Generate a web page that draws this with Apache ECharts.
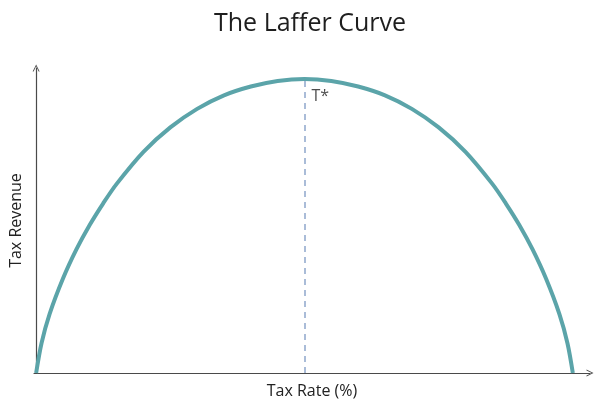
<!DOCTYPE html>
<html>
<head>
<meta charset="utf-8">
<script src="https://cdn.jsdelivr.net/npm/echarts@6/dist/echarts.min.js"></script>
<style>html,body{margin:0;padding:0;background:#fff}#c{width:602px;height:408px}</style>
</head>
<body>
<div id="c"></div>
<script>
// Tax rate (%) and tax revenue (relative, peak = 100)
var taxRate = [0, 1, 2.5, 5, 7.5, 10, 12.5, 15, 20, 25, 30, 35, 40, 45, 50, 55, 60, 65, 70, 75, 80, 85, 87.5, 90, 92.5, 95, 97.5, 99, 100];
var revenue = [0, 10.1, 20, 32.1, 42, 50.4, 57.7, 64.3, 75.2, 83.5, 89.8, 94.4, 97.4, 99.3, 100, 99.3, 97.4, 94.4, 89.8, 83.5, 75.2, 64.3, 57.7, 50.4, 42, 32.1, 20, 10.1, 0];
var tStarRate = 50;
var tStarRevenue = 100;
var tStarLabel = 'T*';
var titleText = 'The Laffer Curve';
var xName = 'Tax Rate (%)';
var yName = 'Tax Revenue';

var curve = taxRate.map(function (x, i) { return [x, revenue[i]]; });
var chevron = 'path://M0,10 L5,0 L10,10 L8.6,10 L5,2.6 L1.4,10 Z';
var font = '"Open Sans", "Noto Sans", sans-serif';

var chart = echarts.init(document.getElementById('c'), null, {renderer: 'canvas'});
chart.setOption({
  animation: false,
  backgroundColor: '#ffffff',
  title: {
    text: titleText, left: 209, top: 6,
    textStyle: {fontFamily: font, fontSize: 25, fontWeight: 'normal', color: '#1e1e1e'}
  },
  grid: {left: 33, right: 12, top: 68, bottom: 35, containLabel: false},
  xAxis: {
    type: 'value', min: -0.4, max: 103.2,
    name: xName, nameLocation: 'middle', nameGap: 10,
    nameTextStyle: {fontFamily: font, fontSize: 16, color: '#222'},
    axisLine: {show: true, lineStyle: {color: '#4a4a4a', width: 1.2}, symbol: ['none', chevron], symbolSize: [10, 7], symbolOffset: [0, 0]},
    axisTick: {show: false}, axisLabel: {show: false}, splitLine: {show: false}
  },
  yAxis: {
    type: 'value', min: 0, max: 103.7,
    name: yName, nameLocation: 'middle', nameGap: 10,
    nameTextStyle: {fontFamily: font, fontSize: 16, color: '#222'},
    axisLine: {show: true, lineStyle: {color: '#4a4a4a', width: 1.2}, symbol: ['none', chevron], symbolSize: [10, 7], symbolOffset: [0, 0]},
    axisTick: {show: false}, axisLabel: {show: false}, splitLine: {show: false}
  },
  series: [
    {
      type: 'line', data: curve, smooth: 0.3, showSymbol: false, symbol: 'none',
      lineStyle: {color: '#5BA4A9', width: 4},
      z: 3,
      markLine: {
        silent: true, symbol: ['none', 'none'], animation: false,
        lineStyle: {color: '#8EA6CC', type: [6, 5], width: 1.5},
        label: {show: false},
        data: [[{coord: [tStarRate, 0]}, {coord: [tStarRate, tStarRevenue]}]]
      }
    },
    {
      type: 'scatter', data: [[tStarRate, tStarRevenue]], symbolSize: 0, silent: true,
      label: {
        show: true, formatter: tStarLabel, position: 'right', offset: [2, 18],
        fontFamily: font, fontSize: 16, color: '#222'
      }
    }
  ]
});
</script>
</body>
</html>
